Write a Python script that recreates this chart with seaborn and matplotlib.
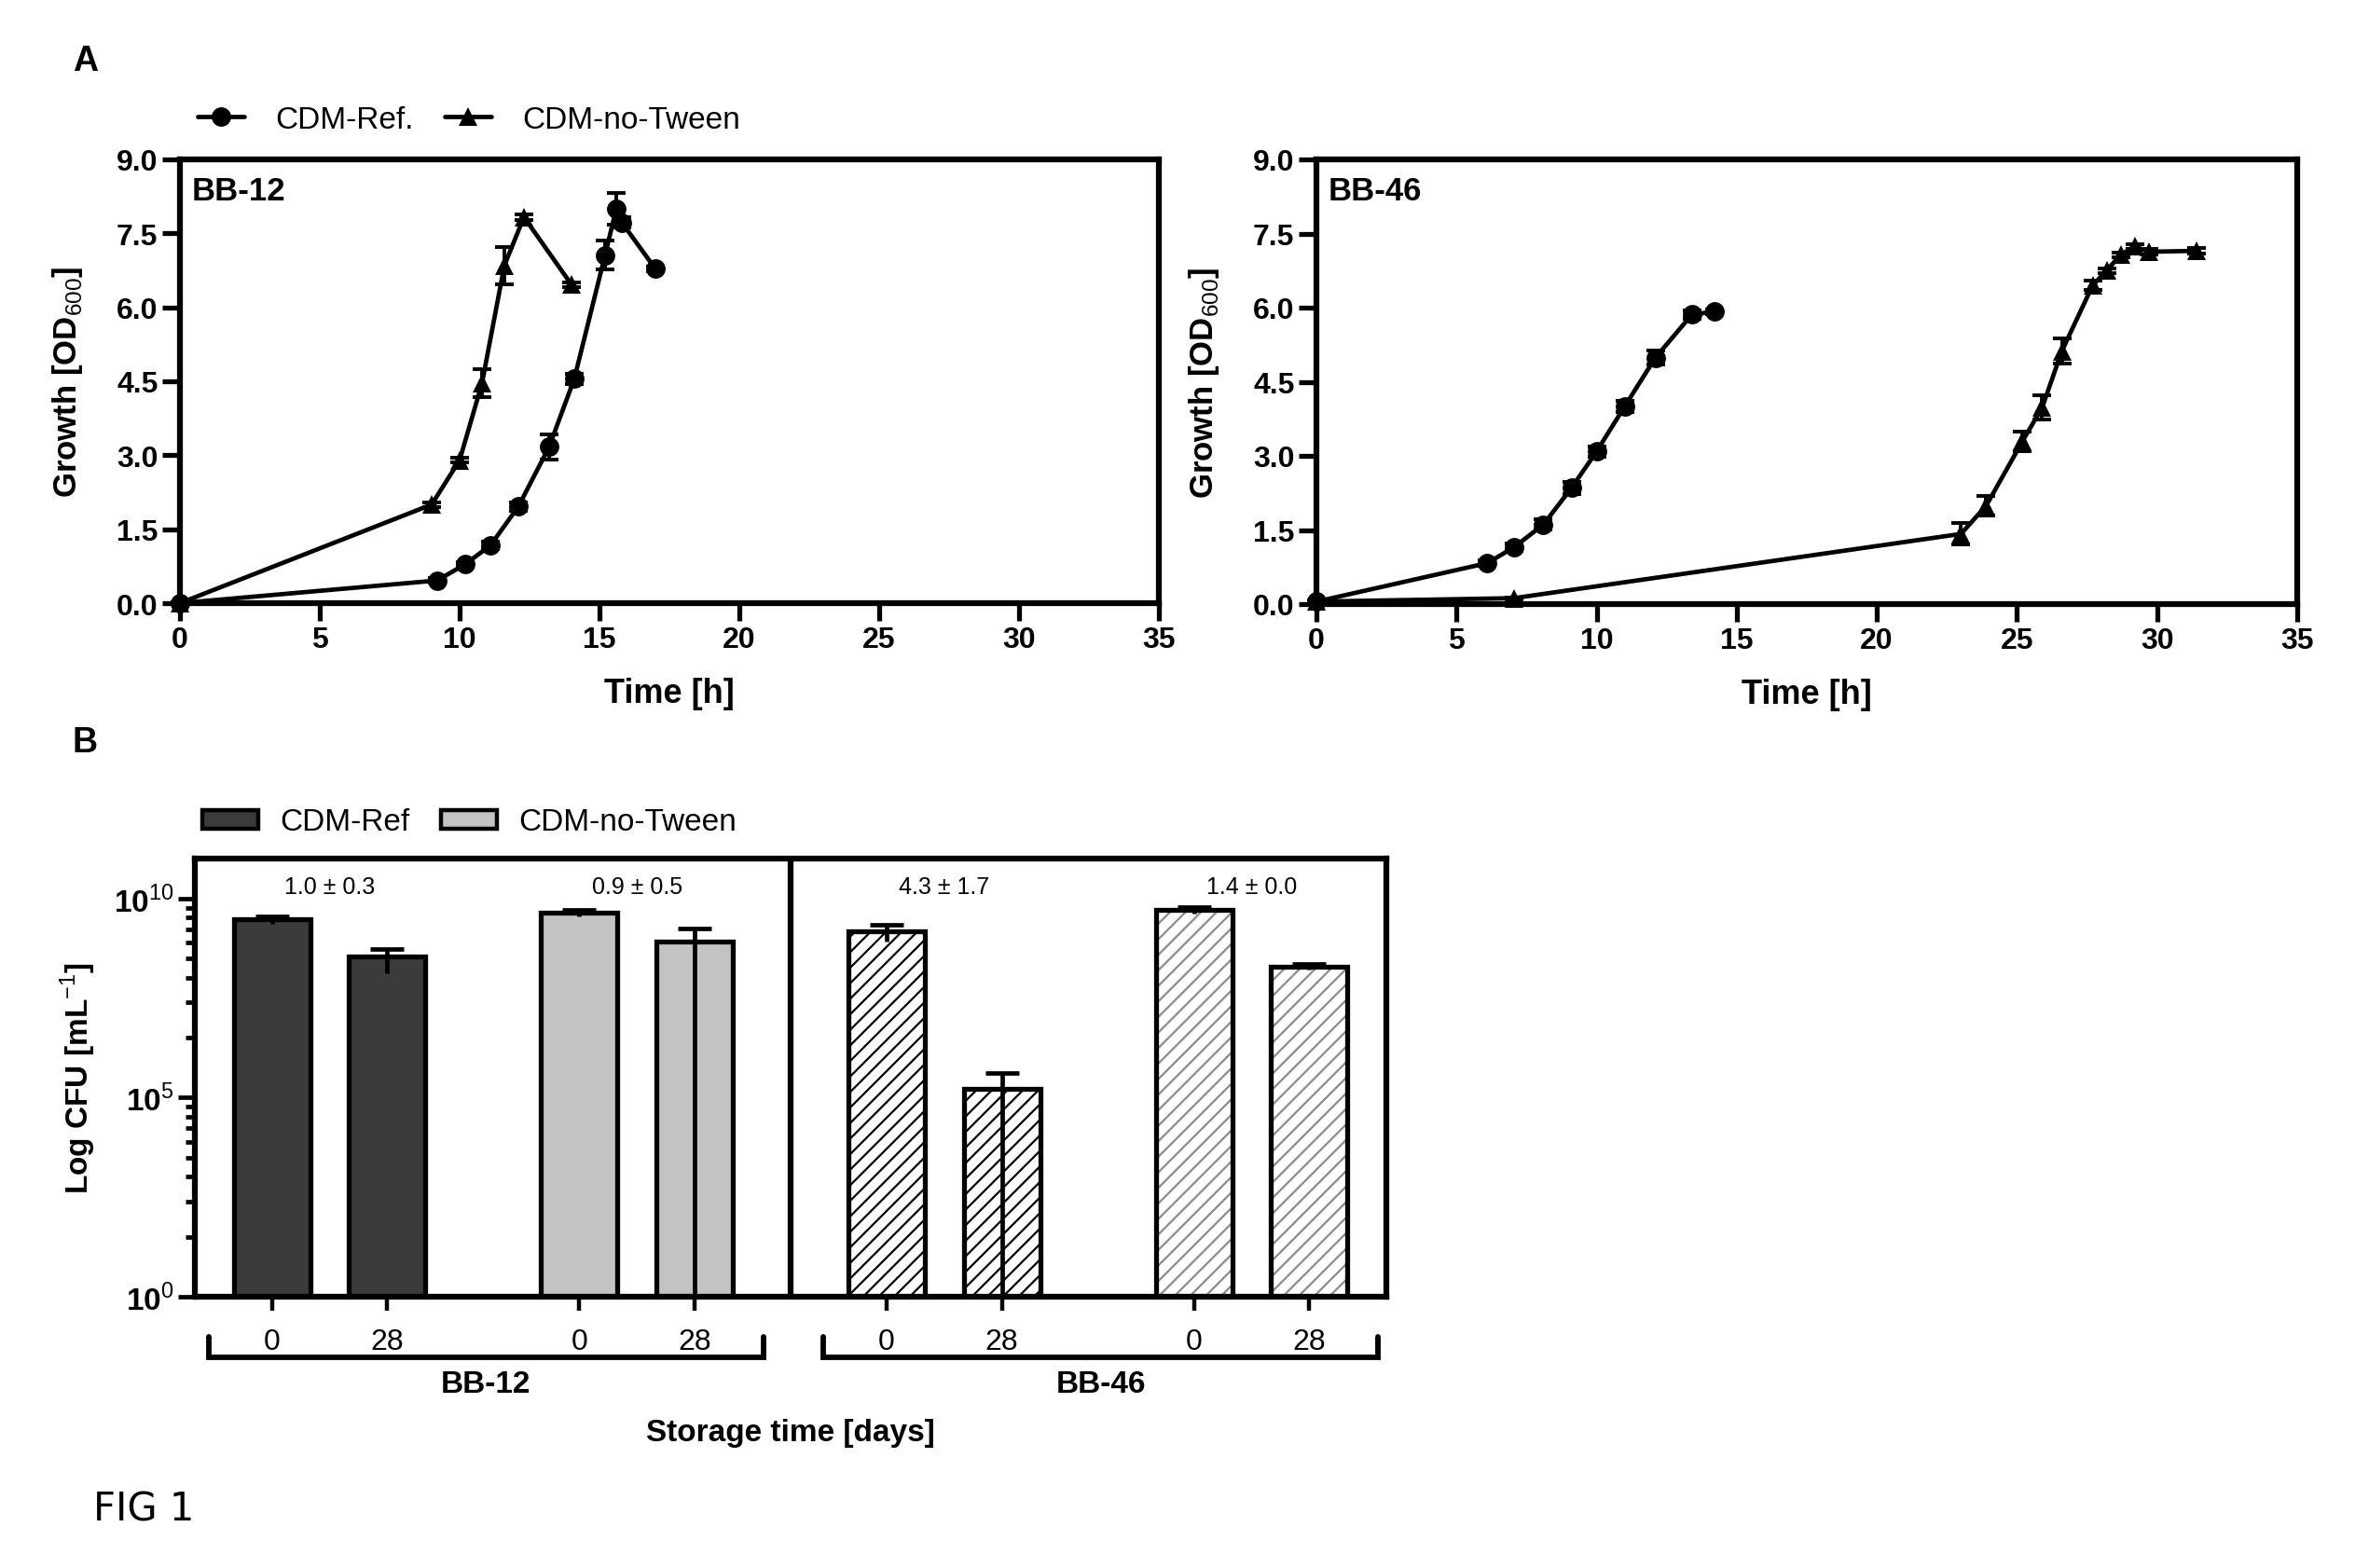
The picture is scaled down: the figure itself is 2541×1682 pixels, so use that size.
import numpy as np
import matplotlib
matplotlib.use('Agg')
import matplotlib.pyplot as plt
import matplotlib.transforms as mtransforms
from matplotlib.patches import Rectangle, Patch
from matplotlib.ticker import FixedLocator, NullFormatter
import seaborn as sns

sns.set_style('ticks')
plt.rcParams['font.family'] = ['Liberation Sans', 'DejaVu Sans']
plt.rcParams['mathtext.fontset'] = 'custom'
plt.rcParams['mathtext.rm'] = 'Liberation Sans'
plt.rcParams['mathtext.bf'] = 'Liberation Sans:bold'
plt.rcParams['hatch.linewidth'] = 1.6
for k in ['text.color', 'axes.labelcolor', 'axes.edgecolor', 'xtick.color', 'ytick.color']:
    plt.rcParams[k] = 'black'

# --- panel A: growth curves (time [h], OD600, sd) ---
bb12_ref_t = [0, 9.2, 10.2, 11.1, 12.1, 13.2, 14.1, 15.2, 15.6, 15.8, 17.0]
bb12_ref_od = [0.0, 0.46, 0.79, 1.17, 1.96, 3.17, 4.55, 7.06, 8.0, 7.72, 6.78]
bb12_ref_sd = [0.02, 0.05, 0.05, 0.08, 0.08, 0.25, 0.1, 0.3, 0.32, 0.1, 0.05]

bb12_nt_t = [0, 9.0, 10.0, 10.8, 11.6, 12.3, 14.0]
bb12_nt_od = [0.0, 2.0, 2.9, 4.46, 6.85, 7.83, 6.46]
bb12_nt_sd = [0.02, 0.05, 0.05, 0.28, 0.38, 0.05, 0.05]

bb46_ref_t = [0, 6.1, 7.05, 8.1, 9.1, 10.0, 11.0, 12.1, 13.4, 14.2]
bb46_ref_od = [0.05, 0.83, 1.15, 1.61, 2.35, 3.09, 4.0, 4.99, 5.86, 5.92]
bb46_ref_sd = [0.02, 0.05, 0.08, 0.1, 0.12, 0.1, 0.12, 0.15, 0.08, 0.05]

bb46_nt_t = [0, 7.05, 23.0, 23.9, 25.2, 25.9, 26.6, 27.7, 28.2, 28.7, 29.2, 29.7, 31.4]
bb46_nt_od = [0.05, 0.12, 1.42, 1.99, 3.3, 3.98, 5.12, 6.45, 6.75, 7.07, 7.24, 7.13, 7.15]
bb46_nt_sd = [0.02, 0.02, 0.22, 0.2, 0.2, 0.25, 0.25, 0.1, 0.05, 0.05, 0.05, 0.05, 0.05]

# --- panel B: viable counts ---
strains = ['BB-12', 'BB-12', 'BB-12', 'BB-12', 'BB-46', 'BB-46', 'BB-46', 'BB-46']
media = ['CDM-Ref', 'CDM-Ref', 'CDM-no-Tween', 'CDM-no-Tween',
         'CDM-Ref', 'CDM-Ref', 'CDM-no-Tween', 'CDM-no-Tween']
days = [0, 28, 0, 28, 0, 28, 0, 28]
cfu_mean = [2.95e9, 3.4e8, 4.3e9, 8.3e8, 1.5e9, 1.7e5, 5.1e9, 1.95e8]
cfu_sd = [0.6e9, 2.1e8, 0.75e9, 9.5e8, 0.68e9, 2.5e5, 1.0e9, 0.34e8]
ratio_labels = ['1.0 ± 0.3', '0.9 ± 0.5', '4.3 ± 1.7', '1.4 ± 0.0']

W, H = 2541, 1683
fig = plt.figure(figsize=(W / 100, H / 100), dpi=100)

SPINE = 4.5
LW = 3.4


def growth_panel(ax, curves, name):
    for t, od, sd, mk, lab in curves:
        sns.lineplot(x=t, y=od, ax=ax, color='black', marker=mk, markersize=15,
                     markeredgewidth=0, linewidth=LW, sort=False, errorbar=None,
                     label=lab, clip_on=False, zorder=4)
        ax.errorbar(t, od, yerr=sd, fmt='none', ecolor='black', elinewidth=2.8,
                    capsize=7, capthick=2.8, clip_on=False, zorder=3)
    ax.get_legend().remove()
    ax.set_xlim(0, 35)
    ax.set_ylim(0, 9)
    xt = list(range(0, 36, 5))
    ax.set_xticks(xt, [str(v) for v in xt], fontweight='bold', fontsize=23)
    yt = [i * 1.5 for i in range(7)]
    ax.set_yticks(yt, [f'{v:.1f}' for v in yt], fontweight='bold', fontsize=23)
    ax.tick_params(direction='out', length=14, width=3.8, pad=3)
    for s in ax.spines.values():
        s.set_linewidth(SPINE)
    ax.set_xlabel('Time [h]', fontweight='bold', fontsize=26)
    ax.set_ylabel(r'Growth [OD$_{600}$]', fontweight='bold', fontsize=25)
    ax.xaxis.set_label_coords(0.5, -0.165)
    ax.yaxis.set_label_coords(-0.097, 0.5)
    ax.text(0.012, 0.929, name, transform=ax.transAxes, fontweight='bold',
            fontsize=25, va='center', ha='left')


ax1 = fig.add_axes([193 / W, 1 - 648 / H, 1050 / W, 476 / H])
growth_panel(ax1, [(bb12_ref_t, bb12_ref_od, bb12_ref_sd, 'o', 'CDM-Ref.'),
                   (bb12_nt_t, bb12_nt_od, bb12_nt_sd, '^', 'CDM-no-Tween')], 'BB-12')
ax2 = fig.add_axes([1412 / W, 1 - 649 / H, 1052 / W, 477 / H])
growth_panel(ax2, [(bb46_ref_t, bb46_ref_od, bb46_ref_sd, 'o', 'CDM-Ref.'),
                   (bb46_nt_t, bb46_nt_od, bb46_nt_sd, '^', 'CDM-no-Tween')], 'BB-46')

h1, l1 = ax1.get_legend_handles_labels()
fig.legend(h1, l1, loc='center left', bbox_to_anchor=(212 / W, 1 - 129 / H), ncol=2,
           frameon=False, fontsize=24, handlelength=1.5, handletextpad=1.0,
           columnspacing=1.0, borderpad=0, borderaxespad=0)

# --- panel B ---
ax3 = fig.add_axes([209 / W, 1 - 1392 / H, 1278 / W, 470 / H])
pos = [pair * 8 / 3 + d for pair in range(4) for d in range(2)]
sns.barplot(x=pos, y=cfu_mean, native_scale=True, width=0.664, color='white',
            errorbar=None, ax=ax3, zorder=2)
ax3.set_yscale('log')

fills = {('BB-12', 'CDM-Ref'): ('#3b3b3b', None, None),
         ('BB-12', 'CDM-no-Tween'): ('#c3c3c3', None, None),
         ('BB-46', 'CDM-Ref'): ('white', '//', 'black'),
         ('BB-46', 'CDM-no-Tween'): ('white', '//', '#8c8c8c')}
bars = sorted(ax3.patches, key=lambda p: p.get_x())
for p, s, m in zip(bars, strains, media):
    fc, hatch, hc = fills[(s, m)]
    p.set_facecolor(fc)
    p.set_linewidth(0)
    if hatch:
        p.set_hatch(hatch)
        p.set_edgecolor(hc)
    ax3.add_patch(Rectangle((p.get_x(), p.get_y()), p.get_width(), p.get_height(),
                            fill=False, edgecolor='black', linewidth=3.8, zorder=3))

mean = np.array(cfu_mean)
sd = np.array(cfu_sd)
low = np.minimum(sd, mean - 1e-3)
ax3.errorbar(pos, mean, yerr=[np.zeros_like(sd), sd], fmt='none', ecolor='black',
             elinewidth=3.4, capsize=13, capthick=3.4, zorder=5)
ax3.errorbar(pos, mean, yerr=[low, np.zeros_like(sd)], fmt='none', ecolor='black',
             elinewidth=3.4, capsize=0, zorder=5)

ax3.set_xlim(-0.67, 9.67)
ax3.set_ylim(1, 1e11)
ax3.axvline((pos[3] + pos[4]) / 2, color='black', lw=SPINE, zorder=4)
ax3.yaxis.set_major_locator(FixedLocator([1, 1e5, 1e10]))
ax3.yaxis.set_minor_locator(FixedLocator([k ** 5 * 10 ** e for e in (0, 5) for k in range(2, 10)]))
ax3.yaxis.set_minor_formatter(NullFormatter())
ax3.set_yticks([1, 1e5, 1e10], [r'$\mathbf{10}^{0}$', r'$\mathbf{10}^{5}$', r'$\mathbf{10}^{10}$'],
               fontsize=24)
ax3.tick_params(axis='y', which='major', direction='out', length=13, width=3.4, pad=3)
ax3.tick_params(axis='y', which='minor', direction='out', length=7, width=3.4)
ax3.set_xticks(pos, [str(d) for d in days], fontsize=23)
ax3.tick_params(axis='x', direction='out', length=11, width=3.2, pad=13)
for s in ax3.spines.values():
    s.set_linewidth(SPINE)
ax3.set_ylabel(r'Log CFU [mL$^{-1}$]', fontweight='bold', fontsize=24)
ax3.yaxis.set_label_coords(-0.081, 0.5)
ax3.set_xlabel('')

trans = mtransforms.blended_transform_factory(ax3.transData, ax3.transAxes)
for i, lab in enumerate(ratio_labels):
    xc = (pos[2 * i] + pos[2 * i + 1]) / 2
    ax3.text(xc, 0.936, lab, transform=trans, ha='center', va='center', fontsize=18)

for g, name in enumerate(['BB-12', 'BB-46']):
    x0 = pos[4 * g] - 0.55
    x1 = pos[4 * g + 3] + 0.6
    ax3.plot([x0, x0, x1, x1], [-0.091, -0.138, -0.138, -0.091], transform=trans,
             color='black', lw=4.2, clip_on=False, solid_joinstyle='miter')
    ax3.text((x0 + x1) / 2, -0.198, name, transform=trans, ha='center', va='center',
             fontweight='bold', fontsize=24)
ax3.text(0.5, -0.309, 'Storage time [days]', transform=ax3.transAxes, ha='center',
         va='center', fontweight='bold', fontsize=24)

leg_handles = [Patch(facecolor=fills[('BB-12', 'CDM-Ref')][0], edgecolor='black', linewidth=3.2),
               Patch(facecolor=fills[('BB-12', 'CDM-no-Tween')][0], edgecolor='black', linewidth=3.2)]
fig.legend(leg_handles, ['CDM-Ref', 'CDM-no-Tween'], loc='center left',
           bbox_to_anchor=(217 / W, 1 - 883 / H), ncol=2, frameon=False, fontsize=24,
           handlelength=1.8, handleheight=0.55, handletextpad=0.7, columnspacing=1.0,
           borderpad=0, borderaxespad=0)

fig.text(92 / W, 1 - 66 / H, 'A', fontweight='bold', fontsize=27, ha='center', va='center')
fig.text(91 / W, 1 - 797 / H, 'B', fontweight='bold', fontsize=27, ha='center', va='center')
fig.text(100 / W, 1 - 1620 / H, 'FIG 1', family='DejaVu Sans', fontsize=30, ha='left', va='center')

fig.savefig('out.png', dpi=100)
